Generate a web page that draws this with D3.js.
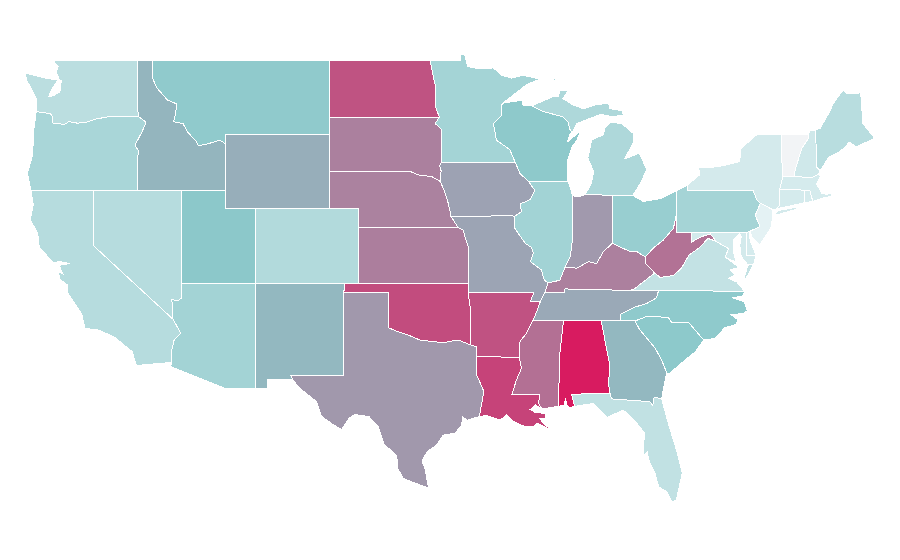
<!DOCTYPE html>
<html>
<head>
<meta charset="utf-8">
<script src="https://cdn.jsdelivr.net/npm/d3@7"></script>
<style>
  html, body { margin: 0; padding: 0; background: #fff; }
  .state { stroke: #fff; stroke-width: 1; shape-rendering: crispEdges; }
</style>
</head>
<body>
<div id="map"></div>
<script>
// Shown value per state
const stateNames = ["WA","OR","CA","NV","ID","MT","WY","UT","CO","AZ","NM","ND","SD","NE","KS","OK","TX","MN","IA","MO","AR","LA","WI","IL","MS","AL","TN","KY","IN","OH","MI","GA","FL","SC","NC","VA","WV","PA","NY","NJ","DE","MD","CT","RI","MA","VT","NH","ME"];
const stateValues = [27.6,36.2,30,30,55.5,48,57.5,50,31.9,39,54.6,83.8,70.7,70.2,71.3,85.8,64,38.5,61,60.5,84,88.4,49,39.5,75.5,100,59,70.8,63.6,44.3,33.8,54.6,24.7,49.5,48.5,23.8,75,38,15.6,8,15.2,16,15.2,15.2,15.2,0.5,18,29];

// Colour stops of the scale
const colorDomain = [0, 8, 50, 100];
const colorRange = ["#f3f4f6", "#e4f2f4", "#8cc8ca", "#d81b60"];

// Wiggly borders shared by two states, [lon, lat]
const waOr = [[-123.9,46.24],[-123.4,46.2],[-122.85,46.1],[-122.75,45.6],[-121.95,45.56],[-121.7,45.7],[-121.1,45.62],[-120.5,45.67],[-119.8,45.85],[-119,45.97],[-116.95,45.97]];
const orId = [[-116.95,45.97],[-116.45,45.68],[-116.73,45.15],[-117.2,44.44],[-116.93,44.07],[-117.03,43.8],[-117.03,42]];
const idMt = [[-116.05,49],[-116.05,48.1],[-115.7,47.5],[-115,46.87],[-114.35,46.65],[-114.5,45.95],[-114.6,45.7],[-113.95,45.6],[-113.6,45.1],[-113.1,44.7],[-112.9,44.4],[-112.3,44.5],[-111.45,44.7],[-111.05,44.5]];
const caAz = [[-114.7,32.72],[-114.7,33.4],[-114.55,33.93],[-114.1,34.3],[-114.63,35.05]];
const nvAz = [[-114.63,35.05],[-114.7,36.1],[-114.3,36.04],[-114.04,36.2],[-114.04,37]];
const ndMn = [[-97.2,49],[-97.05,48.4],[-96.86,47.7],[-96.8,46.45],[-96.57,45.95]];
const sdMn = [[-96.57,45.95],[-96.85,45.6],[-96.45,45.3],[-96.45,43.5]];
const sdIa = [[-96.45,43.5],[-96.55,43.3],[-96.45,43.05],[-96.5,42.47]];
const sdNe = [[-104.05,43],[-98.5,43],[-97.9,42.8],[-97.1,42.75],[-96.5,42.47]];
const neIa = [[-96.5,42.47],[-96.2,41.9],[-96,41.4],[-95.85,40.9],[-95.77,40.58]];
const neMo = [[-95.77,40.58],[-95.31,40]];
const ksMo = [[-95.31,40],[-94.97,39.87],[-94.7,39.15],[-94.62,39],[-94.62,36.5]];
const okTx = [[-100,36.5],[-100,34.58],[-99.4,34.38],[-98.7,34.2],[-97.9,33.93],[-97,33.84],[-96.3,33.78],[-95.3,33.93],[-94.45,33.66]];
const arTx = [[-94.45,33.66],[-94.04,33.55],[-94.04,33.02]];
const txLa = [[-94.04,33.02],[-94.04,32.05],[-93.55,31.15],[-93.8,30.07],[-93.85,29.8]];
const mnWi = [[-92.25,46.7],[-92.34,46.6],[-92.34,46.06],[-92.9,45.6],[-92.7,44.7],[-91.8,44.2],[-91.2,43.5]];
const iaWi = [[-91.2,43.5],[-91.1,42.9],[-90.55,42.5]];
const iaIl = [[-90.55,42.5],[-90.1,42],[-90.4,41.5],[-91.1,41.26],[-91,40.85],[-91.45,40.6]];
const moIl = [[-91.45,40.6],[-91.45,39.95],[-90.76,39.15],[-90.3,38.9],[-90.2,38.6],[-90.4,38.15],[-89.65,37.7],[-89.45,37.15],[-89.2,37]];
const ilKy = [[-89.2,37],[-88.4,37.15],[-88.05,37.85]];
const ilIn = [[-88.05,37.85],[-87.7,38.4],[-87.55,39.3],[-87.53,41.7]];
const inKy = [[-88.05,37.85],[-87.25,37.8],[-86.45,38.15],[-85.9,38.05],[-85.45,38.7],[-84.82,39.15]];
const ohKy = [[-84.82,39.15],[-84.2,38.9],[-83.65,38.7],[-83.2,38.7],[-82.6,38.4]];
const ohWv = [[-80.52,40.62],[-80.7,39.95],[-81.4,39.3],[-82.05,38.9],[-82.6,38.4]];
const kyWv = [[-82.6,38.4],[-82.6,38.05],[-81.97,37.54]];
const kyVa = [[-81.97,37.54],[-83.4,36.65],[-83.67,36.6]];
const vaWv = [[-77.8,39.25],[-78.35,39.4],[-78.95,38.9],[-79.65,38.5],[-80.15,37.8],[-80.7,37.4],[-81.6,37.3],[-81.97,37.54]];
const arTn = [[-89.72,36],[-89.95,35.5],[-90.2,35]];
const arMs = [[-90.2,35],[-90.3,34.9],[-90.65,34.3],[-91.1,33.85],[-91.15,33]];
const laMs = [[-91.15,33],[-91,32.4],[-91.35,31.75],[-91.65,31],[-89.75,31],[-89.85,30.5],[-89.6,30.2]];
const tnNc = [[-81.7,36.6],[-81.85,36.2],[-82.5,35.9],[-83.3,35.7],[-84.3,35.3],[-84.3,35]];
const ncSc = [[-78.65,33.93],[-79.65,34.85],[-80.8,34.85],[-81.05,35.15],[-82.5,35.2],[-83.3,34.95]];
const scGa = [[-83.3,34.95],[-83,34.5],[-81.95,33.5],[-81.5,32.85],[-81.15,32.15]];
const alGa = [[-85.6,34.98],[-85,32.5],[-85.1,31.6],[-85,31.05]];
const gaFl = [[-85,31.05],[-84.9,30.75],[-82.3,30.6],[-82.1,30.4],[-82,30.85],[-81.5,30.75]];
const wiMi = [[-90.3,46.56],[-89.5,46.24],[-88.2,45.97],[-87.85,45.7],[-87.7,45.25],[-87.55,45.15]];
const mdVa = [[-77.2,38.4],[-76.95,38.85],[-77.5,39.1],[-77.8,39.25]];
const paNy = [[-79.76,42],[-75.3,42],[-75.05,41.5],[-74.8,41.3]];
const paNj = [[-74.8,41.3],[-75.15,40.65],[-74.83,40.04],[-75.5,39.8]];
const nyCt = [[-73.5,42.05],[-73.5,41.2],[-73.7,41]];
const vtNy = [[-73.35,45],[-73.4,44],[-73.35,43.6],[-73.27,42.75]];
const nhVt = [[-71.55,45],[-71.55,44.8],[-72,44.25],[-72.45,43.1],[-72.5,42.73]];

const rev = a => a.slice().reverse();

// Each state is a list of rings
const stateRings = {
  WA: [[[-122.76,49],[-117.04,49],[-117.04,46.4],...rev(waOr),[-123.9,46.96],[-124.55,47.95],[-124.66,48.33],[-123.2,48.04],[-122.85,48],[-122.42,47.95],[-122.6,47.75],[-122.85,47.45],[-123.05,47.05],[-122.75,47.1],[-122.3,47.3],[-122.2,47.9],[-122.35,48],[-122.55,48.4],[-122.4,48.67]]],
  OR: [[...waOr,...orId,[-120,42],[-124.25,42],[-124.5,42.9],[-124.15,43.9],[-124.05,45.35]]],
  CA: [[[-124.25,42],[-120,42],[-120,39],[-114.63,35.05],...rev(caAz),[-117.1,32.55],[-117.4,33.3],[-118.55,34.05],[-119.6,34.45],[-120.6,34.55],[-120.8,35.3],[-121.8,36.5],[-121.8,36.9],[-122.3,37.2],[-122.4,37.6],[-122.1,37.5],[-122.35,37.95],[-121.6,38.05],[-122.3,38.15],[-122.76,38.1],[-123.7,38.95],[-123.8,39.7],[-124.3,40.4],[-124.1,41.2]]],
  NV: [[[-120,42],[-114.04,42],[-114.04,37],...rev(nvAz),[-120,39]]],
  ID: [[[-117.04,49],...idMt,[-111.05,42],[-117.03,42],...rev(orId),[-117.04,46.4]]],
  MT: [[...idMt.slice(0,1),[-104.05,49],[-104.05,45],[-111.05,45],...rev(idMt).slice(0,-1)]],
  WY: [[[-111.05,45],[-104.05,45],[-104.05,41],[-111.05,41]]],
  UT: [[[-114.04,42],[-111.05,42],[-111.05,41],[-109.05,41],[-109.05,37],[-114.04,37]]],
  CO: [[[-109.05,41],[-102.05,41],[-102.05,37],[-109.05,37]]],
  AZ: [[[-114.04,37],[-109.05,37],[-109.05,31.33],[-111.15,31.33],[-114.81,32.5],...caAz,...nvAz.slice(1)]],
  NM: [[[-109.05,37],[-103,37],[-103.04,36.5],[-103.06,32],[-106.62,32],[-106.53,31.8],[-108.22,31.8],[-108.22,31.33],[-109.05,31.33]]],
  ND: [[[-104.05,49],...ndMn,[-104.05,45.94]]],
  SD: [[[-104.05,45.94],...sdMn,...sdIa,...rev(sdNe)]],
  NE: [[...sdNe,...neIa,...neMo,[-102.05,40],[-102.05,41],[-104.05,41]]],
  KS: [[[-102.05,40],...ksMo.slice(0,4),[-94.62,37],[-102.05,37]]],
  OK: [[[-103,37],[-94.62,37],[-94.43,35.4],...rev(okTx).slice(0,-1),[-100,36.5],[-103.04,36.5]]],
  TX: [[[-103.04,36.5],...okTx,...arTx.slice(1),...txLa.slice(1),[-94.7,29.6],[-95,29.8],[-95.05,29.35],[-95.5,28.9],[-96.3,28.8],[-96.75,28.27],[-97.4,27.9],[-97.75,27.4],[-97.55,27],[-97.3,25.95],[-98.2,26.2],[-99,26.45],[-99.4,27],[-99.45,27.65],[-99.9,28],[-100.35,28.35],[-100.7,29.25],[-101.35,29.8],[-102.3,29.9],[-102.7,29.7],[-103.2,29.1],[-103.75,29.35],[-104.55,29.8],[-104.9,30.6],[-106,31.3],[-106.53,31.8],[-106.62,32],[-103.06,32]]],
  MN: [[[-97.2,49],[-95.15,49],[-95.1,49.35],[-94.85,49.32],[-94.65,48.67],[-93.8,48.55],[-92.9,48.6],[-92.35,48.2],[-91.65,48.05],[-90.9,48.2],[-89.75,48],[-90.65,47.7],[-92.1,46.8],...mnWi,[-96.45,43.5],...rev(sdMn),...rev(ndMn)]],
  IA: [[[-96.45,43.5],[-91.2,43.5],...iaWi.slice(1),...iaIl.slice(1),[-91.67,40.63],...rev(neIa),...rev(sdIa)]],
  MO: [[[-95.77,40.58],[-91.67,40.63],...moIl,[-89.4,36.5],[-89.72,36],[-90.4,36],[-90.15,36.5],[-94.62,36.5],...rev(ksMo).slice(1),[-95.77,40.58]]],
  AR: [[[-94.62,36.5],[-90.15,36.5],[-90.4,36],...arTn,...arMs.slice(1),...rev(arTx),[-94.43,35.4]]],
  LA: [[[-94.04,33.02],...laMs,[-90.05,30.42],[-90.4,30.18],[-90.05,30],[-89.4,29.98],[-89.4,29.7],[-89.75,29.7],[-89.55,29.45],[-89,29.1],[-89.5,29.25],[-89.9,29.45],[-90.2,29.26],[-90.75,29.25],[-91.55,29.53],[-92,29.9],[-92.45,29.6],[-93.35,29.85],...rev(txLa)]],
  WI: [[[-92.25,46.7],[-90.9,46.87],[-90.9,46.6],[-90.3,46.56],...wiMi.slice(1),[-87.7,45.05],[-87.9,44.6],[-87,45.2],[-87.25,44.7],[-87.6,44.3],[-87.85,43.65],[-87.85,42.5],...rev(iaWi).slice(0,2),...rev(mnWi).slice(1)]],
  IL: [[[-90.55,42.5],[-87.85,42.5],[-87.6,41.9],...rev(ilIn),...rev(ilKy).slice(1),...rev(moIl).slice(1),...rev(iaIl).slice(1)]],
  MS: [[[-90.2,35],[-88.15,35],[-88.4,33.2],[-88.5,30.35],[-89.6,30.2],...rev(laMs).slice(1),...rev(arMs).slice(1)]],
  AL: [[[-88.15,35],...alGa,[-87.6,31],[-87.4,30.35],[-87.7,30.28],[-87.95,30.4],[-88,30.8],[-88.1,30.4],[-88.5,30.35],[-88.4,33.2]]],
  TN: [[[-89.4,36.5],[-88.07,36.5],[-88.05,36.68],[-83.67,36.6],[-81.7,36.6],...tnNc.slice(1),[-85.6,34.98],[-88.15,35],[-90.2,35],...rev(arTn)]],
  KY: [[...ilKy,...inKy.slice(1),...ohKy.slice(1),...kyWv.slice(1),...kyVa.slice(1),[-88.05,36.68],[-88.07,36.5],[-89.4,36.5]]],
  IN: [[[-87.53,41.7],[-87.1,41.65],[-86.7,41.77],[-84.8,41.73],[-84.82,39.15],...rev(inKy).slice(1),...ilIn.slice(1)]],
  OH: [[[-84.8,41.73],[-83.45,41.72],[-82.75,41.4],[-81.6,41.55],[-80.52,41.97],...ohWv,...rev(ohKy).slice(1)]],
  MI: [
    [[-86.7,41.77],[-84.8,41.73],[-83.45,41.72],[-83,42.3],[-82.5,43.1],[-83,44],[-84,43.7],[-83.4,44.6],[-83.4,45.05],[-84.2,45.6],[-85,45.67],[-85.35,45.35],[-85.45,45],[-86.25,44.7],[-86.5,43.73],[-86.1,43],[-86.3,42.3]],
    [[-90.3,46.56],[-88.85,47.05],[-88.5,47.05],[-88.4,47.4],[-87.8,47.4],[-88.2,46.95],[-87.5,46.6],[-86.8,46.4],[-86,46.6],[-85.1,46.7],[-85,46.4],[-84.2,46.3],[-84.1,46.05],[-84.9,45.97],[-85.6,46.1],[-86.6,45.8],[-87.25,45.6],...rev(wiMi).slice(0,-1)],
    [[-89.15,47.85],[-88.6,48.1],[-88.7,47.95]]
  ],
  GA: [[[-85.6,34.98],[-84.3,35],[-83.3,34.95],...scGa.slice(1),[-81.3,31.6],[-81.5,30.75],...rev(gaFl).slice(1),...rev(alGa).slice(1)]],
  FL: [[...gaFl,[-81.5,30.75],[-81.05,29.45],[-80.5,28],[-80.1,26.75],[-80.5,25.3],[-80.8,25.2],[-81.15,25.75],[-81.7,26],[-81.95,26.75],[-82.4,27.5],[-82.45,27.9],[-82.75,27.7],[-82.75,28],[-82.65,28.9],[-83.2,29.45],[-84.1,30.15],[-85.2,29.75],[-86.1,30.5],[-87.4,30.35],[-87.6,31]]],
  SC: [[...ncSc,...scGa.slice(1),[-81,32.1],[-79.9,32.85],[-79.2,33.3]]],
  NC: [[[-81.7,36.6],[-75.87,36.55],[-76,36.3],[-76.7,36.2],[-75.9,36],[-75.7,35.5],[-76,35.35],[-76.8,35.3],[-76.3,35],[-76.5,34.75],[-77.2,34.6],[-77.9,34],...ncSc,[-84.3,35],...rev(tnNc).slice(1)]],
  VA: [
    [[-83.67,36.6],[-81.7,36.6],[-75.87,36.55],[-76.4,37.05],[-76.95,37.25],[-76.5,37.43],[-76.85,37.7],[-76.25,37.85],...mdVa,...vaWv.slice(1),...kyVa.slice(1)],
    [[-75.85,37.15],[-75.85,37.43],[-75.65,37.95],[-75.25,38.03],[-75.6,37.5]]
  ],
  WV: [[...ohWv.slice(0,1),[-80.52,39.72],[-79.48,39.72],[-79.48,39.2],[-78.8,39.5],[-78.2,39.65],...vaWv,...rev(kyWv).slice(1),...rev(ohWv).slice(1)]],
  PA: [[[-80.52,41.97],[-79.76,42.27],...paNy,...paNj,[-75.75,39.72],[-80.52,39.72]]],
  NY: [
    [[-79.76,42.27],[-78.9,42.85],[-79,43.2],[-77.65,43.27],[-76.2,43.55],[-76.15,44.2],[-75.3,44.85],[-75,45],...vtNy,[-73.5,42.05],...nyCt.slice(1),[-73.95,40.95],[-74.8,41.3],...rev(paNy).slice(1)],
    [[-73.9,40.7],[-73.55,40.92],[-72.6,41.05],[-71.95,41.12],[-72.6,40.92],[-73.5,40.72]]
  ],
  NJ: [[...paNj,[-75.4,39.5],[-74.85,39.05],[-74.1,39.96],[-74,40.4],[-73.95,40.95]]],
  DE: [[[-75.75,39.72],[-75.55,39.78],[-75.5,39.3],[-75.1,38.5],[-75.75,38.5]]],
  MD: [[[-79.48,39.72],[-75.75,39.72],[-75.75,38.5],[-75.1,38.5],[-75.25,38.03],[-75.65,37.98],[-76.1,38.43],[-76.2,39.05],[-76.1,39.5],[-76.2,39.65],[-76.65,39.3],[-76.65,38.8],[-76.5,38.25],[-76.4,38.1],...mdVa,[-78.2,39.65],[-78.8,39.5],[-79.48,39.2]]],
  CT: [[...nyCt,[-71.85,41.32],[-71.8,42.02]]],
  RI: [[[-71.8,42.02],[-71.45,42],[-71.25,41.4],[-71.85,41.32]]],
  MA: [[[-73.5,42.05],[-73.27,42.75],[-72.5,42.73],[-71.3,42.7],[-70.85,42.88],[-70.75,42.75],[-71,42.35],[-70.65,41.85],[-70.35,41.78],[-70,41.85],[-69.97,41.68],[-70.6,41.58],[-71.25,41.4],[-71.45,42]]],
  VT: [[...vtNy,...rev(nhVt)]],
  NH: [[...nhVt.slice(0,1),[-71.45,45.25],[-71.05,45.25],[-71,43.25],[-70.75,43.05],[-70.85,42.88],[-71.3,42.7],...rev(nhVt).slice(0,-1)]],
  ME: [[[-71.05,45.25],[-70.75,45.35],[-70.1,46.25],[-69.85,46.7],[-69.2,47.4],[-68.95,47.22],[-68,47.25],[-67.85,45.6],[-67.05,44.8],[-67.6,44.6],[-68.3,44.35],[-68.8,44.6],[-69,44.35],[-69.6,44],[-70.15,43.8],[-70.75,43.05],[-71,43.25]]]
};

const width = 900, height = 560;

const xScale = d3.scaleLinear().domain([-104.05, -102.05]).range([329, 358.5]);
const yScale = d3.scaleLinear().domain([49, 37]).range([60.5, 283]);
const colorScale = d3.scaleLinear().domain(colorDomain).range(colorRange);

const projection = d3.geoTransform({
  point: function(x, y) { this.stream.point(xScale(x), yScale(y)); }
});
const path = d3.geoPath(projection);

const svg = d3.select("#map").append("svg")
  .attr("width", width)
  .attr("height", height)
  .style("display", "block");

const states = stateNames.map((name, i) => ({
  type: "Feature",
  properties: { name: name, value: stateValues[i] },
  geometry: { type: "MultiPolygon", coordinates: stateRings[name].map(r => [r.concat([r[0]])]) }
}));

svg.selectAll(".state")
  .data(states)
  .enter().append("path")
  .attr("class", "state")
  .attr("d", path)
  .style("fill", d => colorScale(d.properties.value));
</script>
</body>
</html>
